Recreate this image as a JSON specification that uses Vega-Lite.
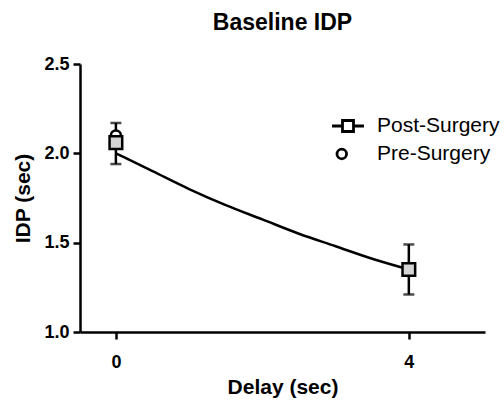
{
  "$schema": "https://vega.github.io/schema/vega-lite/v6.json",
  "width": 405,
  "height": 268,
  "autosize": {"type": "none"},
  "padding": {"left": 80, "top": 64, "right": 19, "bottom": 68},
  "background": "white",
  "title": {"text": "Baseline IDP", "font": "Liberation Sans", "fontSize": 23, "fontWeight": "bold", "color": "black", "anchor": "middle", "offset": 20},
  "config": {
    "view": {"stroke": null},
    "axis": {"domainColor": "black", "domainWidth": 2.5, "tickColor": "black", "tickWidth": 2.5, "tickSize": 7, "grid": false, "labelColor": "black", "labelFont": "Liberation Sans", "labelFontWeight": "bold", "labelFontSize": 18, "titleFont": "Liberation Sans", "titleFontWeight": "bold", "titleFontSize": 21, "titleColor": "black"},
    "legend": {"labelFont": "Liberation Sans", "labelFontSize": 21, "labelColor": "black"}
  },
  "datasets": {
    "points": [
      {"delay": 0, "idp": 2.10, "group": "Pre-Surgery"},
      {"delay": 0, "idp": 2.06, "lo": 1.94, "hi": 2.17, "group": "Post-Surgery"},
      {"delay": 4, "idp": 1.35, "lo": 1.21, "hi": 1.49, "group": "Post-Surgery"}
    ],
    "fit": [
      {"delay": 0, "idp": 2.0},
      {"delay": 0.5, "idp": 1.9},
      {"delay": 1.0, "idp": 1.8},
      {"delay": 1.5, "idp": 1.71},
      {"delay": 2.0, "idp": 1.63},
      {"delay": 2.5, "idp": 1.55},
      {"delay": 3.0, "idp": 1.48},
      {"delay": 3.5, "idp": 1.41},
      {"delay": 4.0, "idp": 1.35}
    ]
  },
  "encoding": {
    "x": {"field": "delay", "type": "quantitative", "scale": {"domain": [-0.49, 5.04], "nice": false, "zero": false}, "axis": {"values": [0, 4], "title": "Delay (sec)", "labelPadding": 14, "titlePadding": 5}},
    "y": {"field": "idp", "type": "quantitative", "scale": {"domain": [1, 2.5], "nice": false, "zero": false}, "axis": {"values": [1, 1.5, 2, 2.5], "format": ".1f", "title": "IDP (sec)", "labelPadding": 4, "titlePadding": 10}}
  },
  "resolve": {"scale": {"shape": "independent", "fill": "independent", "color": "independent", "size": "independent"}, "legend": {"shape": "independent", "color": "independent", "fill": "independent"}},
  "layer": [
    {
      "data": {"name": "fit"},
      "mark": {"type": "line", "color": "black", "strokeWidth": 2.5, "interpolate": "monotone"}
    },
    {
      "data": {"name": "points"},
      "transform": [{"filter": "datum.lo != null"}],
      "mark": {"type": "rule", "color": "black", "strokeWidth": 2.5},
      "encoding": {"y": {"field": "lo", "type": "quantitative"}, "y2": {"field": "hi"}}
    },
    {
      "data": {"name": "points"},
      "transform": [{"filter": "datum.lo != null"}, {"fold": ["lo", "hi"], "as": ["end", "cap"]}],
      "mark": {"type": "tick", "color": "black", "orient": "horizontal", "size": 11, "thickness": 2.5},
      "encoding": {"y": {"field": "cap", "type": "quantitative"}}
    },
    {
      "data": {"name": "points"},
      "mark": {"type": "point", "filled": false, "strokeWidth": 2.5, "opacity": 1},
      "encoding": {
        "shape": {"field": "group", "type": "nominal", "scale": {"domain": ["Post-Surgery", "Pre-Surgery"], "range": ["square", "circle"]}, "legend": null},
        "fill": {"field": "group", "type": "nominal", "scale": {"domain": ["Post-Surgery", "Pre-Surgery"], "range": ["#d4d4d4", "white"]}, "legend": null},
        "stroke": {"value": "black"},
        "size": {"field": "group", "type": "nominal", "scale": {"domain": ["Post-Surgery", "Pre-Surgery"], "range": [160, 100]}, "legend": null}
      }
    },
    {
      "data": {"name": "points"},
      "mark": {"type": "point", "filled": false, "strokeWidth": 2.5, "opacity": 0},
      "encoding": {
        "fill": {"field": "group", "type": "nominal", "scale": {"domain": ["Post-Surgery", "Pre-Surgery"], "range": ["#d4d4d4", "white"]},
          "legend": {"title": null, "orient": "none", "legendX": 252, "legendY": 46, "padding": 0, "rowPadding": 0, "labelOffset": 13, "symbolSize": 841, "symbolStrokeWidth": 2.8, "symbolStrokeColor": "black", "symbolOpacity": 1, "symbolFillOpacity": 1}},
        "stroke": {"value": "black"},
        "shape": {"field": "group", "type": "nominal", "scale": {"domain": ["Post-Surgery", "Pre-Surgery"], "range": ["M-1.1,0H-0.38M0.38,0H1.1M-0.38,-0.38H0.38V0.38H-0.38Z", "M-0.1,0A0.33,0.33 0 1,1 -0.76,0A0.33,0.33 0 1,1 -0.1,0Z"]}}
      }
    }
  ]
}
